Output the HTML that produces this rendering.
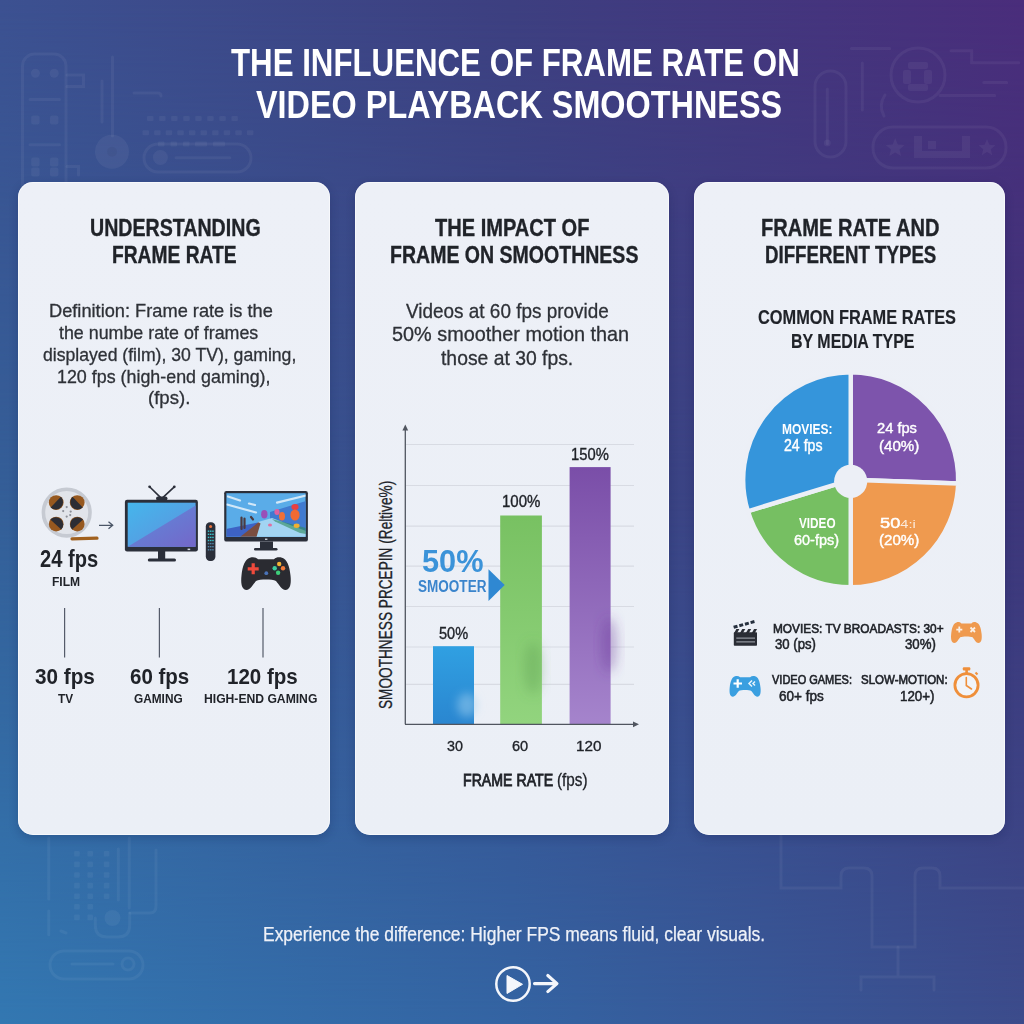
<!DOCTYPE html>
<html><head><meta charset="utf-8"><style>
html,body{margin:0;padding:0;}
body{width:1024px;height:1024px;position:relative;overflow:hidden;font-family:"Liberation Sans", sans-serif;
 background:#3a4f92;}
.t{position:absolute;line-height:1;white-space:nowrap;transform-origin:0 0;}
.bl{display:inline-block;width:0;height:0;vertical-align:baseline;}
</style></head><body>
<div style="position:absolute;left:0;top:0;width:1024px;height:1024px;background:linear-gradient(to right,#3378b2 0%,#3464a3 50%,#3c4c8c 100%)"></div><div style="position:absolute;left:0;top:0;width:1024px;height:1024px;background:linear-gradient(to right,#345f98 0%,#394b8a 50%,#3d367a 100%);-webkit-mask-image:linear-gradient(to bottom,#000 0,#000 512px,transparent 1024px);mask-image:linear-gradient(to bottom,#000 0,#000 512px,transparent 1024px)"></div><div style="position:absolute;left:0;top:0;width:1024px;height:1024px;background:linear-gradient(to right,#3c5191 0%,#3d3f80 50%,#4a2d7b 100%);-webkit-mask-image:linear-gradient(to bottom,#000 0,transparent 512px);mask-image:linear-gradient(to bottom,#000 0,transparent 512px)"></div><svg width="1024" height="1024" style="position:absolute;left:0;top:0" fill="none" stroke="rgba(255,255,255,0.05)" stroke-width="3" stroke-linecap="round"><rect x="22.5" y="54" width="43.5" height="150" rx="12"/><circle cx="35.4" cy="73.3" r="4.5" fill="rgba(255,255,255,0.05)" stroke="none"/><circle cx="54.2" cy="73.3" r="4.5" fill="rgba(255,255,255,0.05)" stroke="none"/><rect x="31.2" y="115.5" width="8.4" height="9" rx="2" fill="rgba(255,255,255,0.05)" stroke="none"/><rect x="50.0" y="115.5" width="8.4" height="9" rx="2" fill="rgba(255,255,255,0.05)" stroke="none"/><rect x="31.2" y="157.5" width="8.4" height="9" rx="2" fill="rgba(255,255,255,0.05)" stroke="none"/><rect x="50.0" y="157.5" width="8.4" height="9" rx="2" fill="rgba(255,255,255,0.05)" stroke="none"/><rect x="31.2" y="167.5" width="8.4" height="9" rx="2" fill="rgba(255,255,255,0.05)" stroke="none"/><rect x="50.0" y="167.5" width="8.4" height="9" rx="2" fill="rgba(255,255,255,0.05)" stroke="none"/><path d="M30 99.5H59.5M30 144.8H59.5"/><path d="M67 75H83.5V86.5H67M67 166.5H78.5V175"/><path d="M112.5 57V136M102 81V122M134 93H158Q161 93 161 96"/><circle cx="112" cy="151.8" r="17" fill="rgba(255,255,255,0.05)" stroke="none"/><circle cx="112" cy="151.8" r="5" fill="rgba(0,0,0,0.04)" stroke="none"/><rect x="144" y="144" width="107" height="28" rx="14"/><circle cx="160.4" cy="157.5" r="7.5" fill="rgba(255,255,255,0.05)" stroke="none"/><path d="M176 157.8H229.8"/><rect x="147.0" y="116" width="6.5" height="5" rx="1" fill="rgba(255,255,255,0.05)" stroke="none"/><rect x="159.1" y="116" width="6.5" height="5" rx="1" fill="rgba(255,255,255,0.05)" stroke="none"/><rect x="171.1" y="116" width="6.5" height="5" rx="1" fill="rgba(255,255,255,0.05)" stroke="none"/><rect x="183.2" y="116" width="6.5" height="5" rx="1" fill="rgba(255,255,255,0.05)" stroke="none"/><rect x="195.2" y="116" width="6.5" height="5" rx="1" fill="rgba(255,255,255,0.05)" stroke="none"/><rect x="207.2" y="116" width="6.5" height="5" rx="1" fill="rgba(255,255,255,0.05)" stroke="none"/><rect x="219.3" y="116" width="6.5" height="5" rx="1" fill="rgba(255,255,255,0.05)" stroke="none"/><rect x="231.4" y="116" width="6.5" height="5" rx="1" fill="rgba(255,255,255,0.05)" stroke="none"/><rect x="142.5" y="130.3" width="6.5" height="5" rx="1" fill="rgba(255,255,255,0.05)" stroke="none"/><rect x="154.1" y="130.3" width="6.5" height="5" rx="1" fill="rgba(255,255,255,0.05)" stroke="none"/><rect x="165.7" y="130.3" width="6.5" height="5" rx="1" fill="rgba(255,255,255,0.05)" stroke="none"/><rect x="177.3" y="130.3" width="6.5" height="5" rx="1" fill="rgba(255,255,255,0.05)" stroke="none"/><rect x="188.9" y="130.3" width="6.5" height="5" rx="1" fill="rgba(255,255,255,0.05)" stroke="none"/><rect x="200.5" y="130.3" width="6.5" height="5" rx="1" fill="rgba(255,255,255,0.05)" stroke="none"/><rect x="212.1" y="130.3" width="6.5" height="5" rx="1" fill="rgba(255,255,255,0.05)" stroke="none"/><rect x="223.7" y="130.3" width="6.5" height="5" rx="1" fill="rgba(255,255,255,0.05)" stroke="none"/><rect x="235.3" y="130.3" width="6.5" height="5" rx="1" fill="rgba(255,255,255,0.05)" stroke="none"/><rect x="246.9" y="130.3" width="6.5" height="5" rx="1" fill="rgba(255,255,255,0.05)" stroke="none"/><rect x="158" y="141.5" width="6.5" height="5" rx="1" fill="rgba(255,255,255,0.05)" stroke="none"/><rect x="170.5" y="141.5" width="6.5" height="5" rx="1" fill="rgba(255,255,255,0.05)" stroke="none"/><rect x="183" y="141.5" width="6.5" height="5" rx="1" fill="rgba(255,255,255,0.05)" stroke="none"/><rect x="195" y="141.5" width="12" height="5" rx="1" fill="rgba(255,255,255,0.05)" stroke="none"/><rect x="213" y="141.5" width="12" height="5" rx="1" fill="rgba(255,255,255,0.05)" stroke="none"/><rect x="815" y="71" width="31" height="86" rx="15.5"/><path d="M827.3 89V143.8"/><circle cx="827.3" cy="143" r="3.5" fill="rgba(255,255,255,0.05)" stroke="none"/><path d="M862.3 63V110M851.4 48.6H889.7M951 50.8H971.7V62.8H1018.8M983.8 82.5H1006.7M940 95.6H994.7"/><circle cx="918" cy="75" r="27"/><rect x="873" y="127" width="133" height="41" rx="20"/><path d="M895.2,138.0 L897.8,144.4 L904.7,144.9 L899.5,149.4 L901.1,156.1 L895.2,152.5 L889.3,156.1 L890.9,149.4 L885.7,144.9 L892.6,144.4Z" fill="rgba(255,255,255,0.05)" stroke="none"/><path d="M987.0,139.0 L989.4,144.8 L995.6,145.2 L990.8,149.2 L992.3,155.3 L987.0,152.0 L981.7,155.3 L983.2,149.2 L978.4,145.2 L984.6,144.8Z" fill="rgba(255,255,255,0.05)" stroke="none"/><path d="M914 136H922V151H962V136H970V158H914Z" fill="rgba(255,255,255,0.05)" stroke="none"/><rect x="928" y="141" width="8" height="8" fill="rgba(255,255,255,0.05)" stroke="none"/><rect x="908" y="62" width="20" height="7" rx="2" fill="rgba(255,255,255,0.05)" stroke="none"/><rect x="903" y="70" width="8" height="14" rx="2" fill="rgba(255,255,255,0.05)" stroke="none"/><rect x="924" y="70" width="8" height="14" rx="2" fill="rgba(255,255,255,0.05)" stroke="none"/><rect x="908" y="84" width="20" height="7" rx="2" fill="rgba(255,255,255,0.05)" stroke="none"/><path d="M885 95Q878 105 884 116"/><path d="M48.8 838V899M48.8 911V934.7M118.3 849V900M129.2 838V908M130 913H150Q156 913 156 906V850M61 931L66 933"/><rect x="74.10000000000001" y="851.0" width="5.6" height="5.6" rx="1" fill="rgba(255,255,255,0.05)" stroke="none"/><rect x="87.4" y="851.0" width="5.6" height="5.6" rx="1" fill="rgba(255,255,255,0.05)" stroke="none"/><rect x="103.8" y="851.0" width="5.6" height="5.6" rx="1" fill="rgba(255,255,255,0.05)" stroke="none"/><rect x="74.10000000000001" y="861.6" width="5.6" height="5.6" rx="1" fill="rgba(255,255,255,0.05)" stroke="none"/><rect x="87.4" y="861.6" width="5.6" height="5.6" rx="1" fill="rgba(255,255,255,0.05)" stroke="none"/><rect x="103.8" y="861.6" width="5.6" height="5.6" rx="1" fill="rgba(255,255,255,0.05)" stroke="none"/><rect x="74.10000000000001" y="872.2" width="5.6" height="5.6" rx="1" fill="rgba(255,255,255,0.05)" stroke="none"/><rect x="87.4" y="872.2" width="5.6" height="5.6" rx="1" fill="rgba(255,255,255,0.05)" stroke="none"/><rect x="103.8" y="872.2" width="5.6" height="5.6" rx="1" fill="rgba(255,255,255,0.05)" stroke="none"/><rect x="74.10000000000001" y="882.8" width="5.6" height="5.6" rx="1" fill="rgba(255,255,255,0.05)" stroke="none"/><rect x="87.4" y="882.8" width="5.6" height="5.6" rx="1" fill="rgba(255,255,255,0.05)" stroke="none"/><rect x="103.8" y="882.8" width="5.6" height="5.6" rx="1" fill="rgba(255,255,255,0.05)" stroke="none"/><rect x="74.10000000000001" y="893.4" width="5.6" height="5.6" rx="1" fill="rgba(255,255,255,0.05)" stroke="none"/><rect x="87.4" y="893.4" width="5.6" height="5.6" rx="1" fill="rgba(255,255,255,0.05)" stroke="none"/><rect x="103.8" y="893.4" width="5.6" height="5.6" rx="1" fill="rgba(255,255,255,0.05)" stroke="none"/><rect x="74.10000000000001" y="904.0" width="5.6" height="5.6" rx="1" fill="rgba(255,255,255,0.05)" stroke="none"/><rect x="87.4" y="904.0" width="5.6" height="5.6" rx="1" fill="rgba(255,255,255,0.05)" stroke="none"/><rect x="74.10000000000001" y="914.6" width="5.6" height="5.6" rx="1" fill="rgba(255,255,255,0.05)" stroke="none"/><rect x="87.4" y="914.6" width="5.6" height="5.6" rx="1" fill="rgba(255,255,255,0.05)" stroke="none"/><path d="M95.3 918V925Q95.3 937 107 937H118Q129.7 937 129.7 925V913"/><circle cx="112.5" cy="918" r="8" fill="rgba(255,255,255,0.05)" stroke="none"/><rect x="50" y="951" width="93" height="28" rx="14"/><path d="M72 964H113"/><circle cx="128" cy="964" r="6"/><path d="M781 836V888H841V876Q841 868 849 868H864Q872 868 872 876V947H915V876Q915 868 923 868H932Q940 868 940 876V888H1024"/><path d="M898 947V977M861 990V977H934V990"/></svg>
<div style="position:absolute;left:18.2px;top:182.3px;width:311.6px;height:653.0px;border-radius:15px;background:linear-gradient(to bottom,#edf0f7,#ebeff6);box-shadow:inset 0 0 0 1px rgba(255,255,255,0.55),0 3px 10px rgba(15,25,70,0.22)"></div><div style="position:absolute;left:354.8px;top:182.3px;width:314.2px;height:653.0px;border-radius:15px;background:linear-gradient(to bottom,#edf0f7,#ebeff6);box-shadow:inset 0 0 0 1px rgba(255,255,255,0.55),0 3px 10px rgba(15,25,70,0.22)"></div><div style="position:absolute;left:694px;top:182.3px;width:310.9px;height:653.0px;border-radius:15px;background:linear-gradient(to bottom,#edf0f7,#ebeff6);box-shadow:inset 0 0 0 1px rgba(255,255,255,0.55),0 3px 10px rgba(15,25,70,0.22)"></div>
<svg width="1024" height="1024" style="position:absolute;left:0;top:0">
<defs>
<linearGradient id="tvscr" x1="0" y1="0" x2="1" y2="1"><stop offset="0" stop-color="#45b6ec"/><stop offset="1" stop-color="#5f8fdc"/></linearGradient>
<linearGradient id="tvscr2" x1="0" y1="0" x2="1" y2="1"><stop offset="0" stop-color="#5b8ddc"/><stop offset="1" stop-color="#7467c9"/></linearGradient>
<linearGradient id="sky" x1="0" y1="0" x2="0" y2="1"><stop offset="0" stop-color="#4f9be6"/><stop offset="1" stop-color="#6fb4ea"/></linearGradient>
<linearGradient id="barB" x1="0" y1="0" x2="0" y2="1"><stop offset="0" stop-color="#30a0e2"/><stop offset="1" stop-color="#2a86d0"/></linearGradient>
<linearGradient id="barG" x1="0" y1="0" x2="0" y2="1"><stop offset="0" stop-color="#78c162"/><stop offset="1" stop-color="#92d47e"/></linearGradient>
<linearGradient id="barP" x1="0" y1="0" x2="0" y2="1"><stop offset="0" stop-color="#7a4ea8"/><stop offset="1" stop-color="#a584cc"/></linearGradient>
<filter id="soft" x="-10%" y="-10%" width="120%" height="120%"><feGaussianBlur stdDeviation="0.6"/></filter>
<filter id="blur3" x="-50%" y="-50%" width="200%" height="200%"><feGaussianBlur stdDeviation="4"/></filter>
<filter id="blur6" x="-50%" y="-50%" width="200%" height="200%"><feGaussianBlur stdDeviation="6"/></filter>
</defs>
<circle cx="66.7" cy="512.6" r="23.3" fill="#e1e4ea" stroke="#c6cad2" stroke-width="3.6"/>
<circle cx="56.20" cy="502.60" r="7.4" fill="#96581f"/>
<path d="M60.87,496.83 A7.4,7.4 0 0 1 50.66,507.54 Z" fill="#2c2d34"/>
<circle cx="77.20" cy="502.60" r="7.4" fill="#96581f"/>
<path d="M82.74,507.54 A7.4,7.4 0 0 1 72.53,496.83 Z" fill="#2c2d34"/>
<circle cx="56.20" cy="524.10" r="7.4" fill="#96581f"/>
<path d="M50.33,519.55 A7.4,7.4 0 0 1 61.26,529.53 Z" fill="#2c2d34"/>
<circle cx="77.20" cy="524.10" r="7.4" fill="#96581f"/>
<path d="M72.14,529.53 A7.4,7.4 0 0 1 83.07,519.55 Z" fill="#2c2d34"/>
<circle cx="66.7" cy="507.1" r="1.1" fill="#8c9099"/>
<circle cx="63.2" cy="511.1" r="1.1" fill="#8c9099"/>
<circle cx="70.7" cy="511.6" r="1.1" fill="#8c9099"/>
<circle cx="66.7" cy="516.6" r="1.1" fill="#8c9099"/>
<circle cx="70.2" cy="515.1" r="1.1" fill="#8c9099"/>
<path d="M72 538.8 L97 538.2" stroke="#a1611f" stroke-width="3.2" stroke-linecap="round"/>
<path d="M99 525.3H112.5M108.5 521.8L112.7 525.3L108.5 528.8" stroke="#4a5566" stroke-width="1.3" fill="none"/>
<path d="M161.7 498.6L149.6 486.8M161.7 498.6L174.3 486.8" stroke="#2b2f3a" stroke-width="1.6"/>
<circle cx="149.6" cy="486.8" r="1.4" fill="#2b2f3a"/><circle cx="174.3" cy="486.8" r="1.4" fill="#2b2f3a"/>
<rect x="156" y="496.5" width="11.5" height="4" rx="2" fill="#2b2f3a"/>
<rect x="124.9" y="499.7" width="73" height="51.8" rx="2.2" fill="#2b2f3a"/>
<rect x="127.7" y="502.7" width="67.9" height="44.1" fill="url(#tvscr)"/>
<path d="M127.7 546.8L195.6 505.5V546.8Z" fill="url(#tvscr2)"/>
<rect x="187.6" y="548.6" width="2.6" height="1.5" fill="#d9dde6"/>
<rect x="158" y="551" width="7.2" height="8.5" fill="#2b2f3a"/>
<rect x="147.8" y="558.6" width="28.2" height="3" rx="1.5" fill="#2b2f3a"/>
<rect x="205.8" y="522.3" width="9.6" height="38.7" rx="4.2" fill="#2b2f3a"/>
<circle cx="210.6" cy="526.6" r="1.5" fill="#e9713c"/>
<rect x="207.8" y="530.5" width="1.5" height="1.4" fill="#39c3cc"/>
<rect x="210.0" y="530.5" width="1.5" height="1.4" fill="#39c3cc"/>
<rect x="212.2" y="530.5" width="1.5" height="1.4" fill="#39c3cc"/>
<rect x="207.8" y="533.6" width="1.5" height="1.4" fill="#39c3cc"/>
<rect x="210.0" y="533.6" width="1.5" height="1.4" fill="#39c3cc"/>
<rect x="212.2" y="533.6" width="1.5" height="1.4" fill="#39c3cc"/>
<rect x="207.8" y="536.7" width="1.5" height="1.4" fill="#39c3cc"/>
<rect x="210.0" y="536.7" width="1.5" height="1.4" fill="#39c3cc"/>
<rect x="212.2" y="536.7" width="1.5" height="1.4" fill="#39c3cc"/>
<rect x="207.8" y="539.8" width="1.5" height="1.4" fill="#39c3cc"/>
<rect x="210.0" y="539.8" width="1.5" height="1.4" fill="#39c3cc"/>
<rect x="212.2" y="539.8" width="1.5" height="1.4" fill="#39c3cc"/>
<rect x="207.8" y="542.9" width="1.5" height="1.4" fill="#4f86a8"/>
<rect x="210.0" y="542.9" width="1.5" height="1.4" fill="#4f86a8"/>
<rect x="212.2" y="542.9" width="1.5" height="1.4" fill="#4f86a8"/>
<rect x="207.8" y="546.0" width="1.5" height="1.4" fill="#4f86a8"/>
<rect x="210.0" y="546.0" width="1.5" height="1.4" fill="#4f86a8"/>
<rect x="212.2" y="546.0" width="1.5" height="1.4" fill="#4f86a8"/>
<rect x="207.8" y="549.1" width="1.5" height="1.4" fill="#4f86a8"/>
<rect x="210.0" y="549.1" width="1.5" height="1.4" fill="#4f86a8"/>
<rect x="212.2" y="549.1" width="1.5" height="1.4" fill="#4f86a8"/>
<rect x="224.2" y="491" width="83.7" height="50.6" rx="2.2" fill="#2b2f3a"/>
<clipPath id="scr"><rect x="226.6" y="493.4" width="79" height="43.4"/></clipPath>
<rect x="226.4" y="493.2" width="79.2" height="43.8" fill="#5aace8"/>
<g clip-path="url(#scr)"><g filter="url(#soft)">
<path d="M270 512L306 501V537H270Z" fill="#3f7ad0"/>
<path d="M226 529L258 522.5L258 537H226Z" fill="#3d62c4"/>
<path d="M258 522L272 518L306 531V537H256Z" fill="#a2d4f2"/>
<path d="M272 519L306 528V534L300 533L275 521.5Z" fill="#2f8a5a" opacity="0.6"/>
<path d="M240 537L258.5 522.3L260.5 523.5L256.5 537Z" fill="#7a4e40"/>
<path d="M227 504.5L256 512.5M228 496.5L240 500.5M277 502.6L306 495.5M249 503.5L255 505" stroke="#e8f3fc" stroke-width="2.2" stroke-linecap="round" opacity="0.85"/>
<path d="M241.5 517.5V529M244.5 518.5V528M251 517l2 2.5" stroke="#4b3a40" stroke-width="2.2" stroke-linecap="round"/>
<ellipse cx="264.3" cy="514.3" rx="3.2" ry="4.2" fill="#9a50b8"/>
<ellipse cx="277" cy="512" rx="2.6" ry="3" fill="#e060a0"/>
<ellipse cx="282" cy="516.3" rx="3" ry="4.3" fill="#f07038"/>
<ellipse cx="295" cy="507" rx="3.6" ry="3" fill="#e84040"/>
<ellipse cx="295" cy="515" rx="4.6" ry="5.5" fill="#f06a30"/>
<ellipse cx="296.6" cy="525.7" rx="3" ry="2.2" fill="#f0b030"/>
<ellipse cx="270" cy="525" rx="2" ry="1.6" fill="#e070a0"/>
</g></g>
<rect x="265" y="538.6" width="2.4" height="1.3" fill="#d8dce4"/>
<rect x="260" y="541.5" width="13" height="7.3" fill="#2b2f3a"/>
<rect x="254" y="548" width="23.5" height="2.6" rx="1.3" fill="#2b2f3a"/>
<g fill="#2a2b31"><path transform="translate(241,556.7) scale(1.0000,0.9912)" d="M9,1 C12,0 15,0.5 17,2.5 L33,2.5 C35,0.5 38,0 41,1 C46,2.5 48.5,9 49.5,19 C50.5,28 49,33.5 44.5,33.5 C40.5,33.5 38,28 35,24.5 C31,22.5 19,22.5 15,24.5 C12,28 9.5,33.5 5.5,33.5 C1,33.5 -0.5,28 0.5,19 C1.5,9 4,2.5 9,1 Z"/></g>
<path d="M253.2 563.3V574.3M247.7 568.8H258.7" stroke="#ee4a3c" stroke-width="3.2"/>
<circle cx="279.2" cy="564" r="2.2" fill="#f2b234"/><circle cx="274.7" cy="568.3" r="2.2" fill="#3ecfa0"/><circle cx="283" cy="568.3" r="2.2" fill="#f27a3a"/><circle cx="278.1" cy="572.8" r="2.2" fill="#3ecf7a"/><circle cx="266.3" cy="573.2" r="1.9" fill="#4a73b8"/>
<path d="M64.6 608V657.5" stroke="#555b6a" stroke-width="1.2"/>
<path d="M159.4 608V657.5" stroke="#555b6a" stroke-width="1.2"/>
<path d="M263.0 608V657.5" stroke="#555b6a" stroke-width="1.2"/>
<path d="M406 444.5H634" stroke="#d8dbe3" stroke-width="1.1"/>
<path d="M406 485.5H634" stroke="#d8dbe3" stroke-width="1.1"/>
<path d="M406 526.1H634" stroke="#d8dbe3" stroke-width="1.1"/>
<path d="M406 566.1H634" stroke="#d8dbe3" stroke-width="1.1"/>
<path d="M406 606.5H634" stroke="#d8dbe3" stroke-width="1.1"/>
<path d="M406 647.0H634" stroke="#d8dbe3" stroke-width="1.1"/>
<path d="M406 684.4H634" stroke="#d8dbe3" stroke-width="1.1"/>
<rect x="433" y="646.2" width="41" height="78.1" fill="url(#barB)"/>
<rect x="500.2" y="515.5" width="41.7" height="208.8" fill="url(#barG)"/>
<rect x="569.6" y="467.1" width="41" height="257.2" fill="url(#barP)"/>
<g filter="url(#blur3)"><ellipse cx="467" cy="705" rx="10" ry="12" fill="#9fd0f0" opacity="0.5"/></g>
<g filter="url(#blur6)"><ellipse cx="533" cy="668" rx="9" ry="26" fill="#5a9a50" opacity="0.35"/></g>
<g filter="url(#blur6)"><ellipse cx="609" cy="645" rx="8" ry="28" fill="#6a3a98" opacity="0.38"/></g>
<path d="M405.3 724.3V428" stroke="#50555f" stroke-width="1.3"/><path d="M402.4 430.5L405.3 424.5L408.2 430.5Z" fill="#50555f"/>
<path d="M405 724.3H635" stroke="#50555f" stroke-width="1.3"/><path d="M633 721.4L639 724.3L633 727.2Z" fill="#50555f"/>
<path d="M488.5 569.2L504.7 584.9L488.5 601Z" fill="#2f88d2"/>
<path d="M850.7,479.8 L850.70,372.30 A107.5,107.5 0 0 1 958.13,483.55 Z" fill="#7d54ac" stroke="#eceff6" stroke-width="4.4" stroke-linejoin="round"/>
<path d="M850.7,479.8 L958.13,483.55 A107.5,107.5 0 0 1 850.70,587.30 Z" fill="#ef9a4f" stroke="#eceff6" stroke-width="4.4" stroke-linejoin="round"/>
<path d="M850.7,479.8 L850.70,587.30 A107.5,107.5 0 0 1 747.90,511.23 Z" fill="#76bf62" stroke="#eceff6" stroke-width="4.4" stroke-linejoin="round"/>
<path d="M850.7,479.8 L747.90,511.23 A107.5,107.5 0 0 1 850.70,372.30 Z" fill="#3595db" stroke="#eceff6" stroke-width="4.4" stroke-linejoin="round"/>
<circle cx="850.7" cy="481.3" r="16.6" fill="#eceff6"/>
<rect x="733.8" y="632.3" width="23.2" height="13.5" rx="0.8" fill="#2a2d35"/>
<path d="M736.3 638.1H755M736.3 641.8H755" stroke="#90949c" stroke-width="1.3"/>
<path d="M733.80 633.5L736.40 629L739.40 629L736.80 633.5Z" fill="#2a2d35"/>
<path d="M739.70 633.5L742.30 629L745.30 629L742.70 633.5Z" fill="#2a2d35"/>
<path d="M745.60 633.5L748.20 629L751.20 629L748.60 633.5Z" fill="#2a2d35"/>
<path d="M751.50 633.5L754.10 629L757.10 629L754.50 633.5Z" fill="#2a2d35"/>
<path d="M733.65 627.28L737.49 626.22" stroke="#26303e" stroke-width="3" stroke-linecap="butt"/>
<path d="M739.30 625.73L743.14 624.67" stroke="#26303e" stroke-width="3" stroke-linecap="butt"/>
<path d="M744.95 624.18L748.79 623.12" stroke="#26303e" stroke-width="3" stroke-linecap="butt"/>
<path d="M750.60 622.63L754.44 621.57" stroke="#26303e" stroke-width="3" stroke-linecap="butt"/>
<g fill="#ef9a4f"><path transform="translate(950.9,621.8) scale(0.6200,0.6353)" d="M9,1 C12,0 15,0.5 17,2.5 L33,2.5 C35,0.5 38,0 41,1 C46,2.5 48.5,9 49.5,19 C50.5,28 49,33.5 44.5,33.5 C40.5,33.5 38,28 35,24.5 C31,22.5 19,22.5 15,24.5 C12,28 9.5,33.5 5.5,33.5 C1,33.5 -0.5,28 0.5,19 C1.5,9 4,2.5 9,1 Z"/></g>
<path d="M956.3 629.6H962.3M959.3 626.6V632.6M970.5 627.5l4.5 4.5M975 627.5l-4.5 4.5" stroke="#fbefe4" stroke-width="1.8"/>
<g fill="#3a9fe0"><path transform="translate(729.4,675.6) scale(0.6280,0.6294)" d="M9,1 C12,0 15,0.5 17,2.5 L33,2.5 C35,0.5 38,0 41,1 C46,2.5 48.5,9 49.5,19 C50.5,28 49,33.5 44.5,33.5 C40.5,33.5 38,28 35,24.5 C31,22.5 19,22.5 15,24.5 C12,28 9.5,33.5 5.5,33.5 C1,33.5 -0.5,28 0.5,19 C1.5,9 4,2.5 9,1 Z"/></g>
<path d="M733.5 683.5H742M737.7 679.3V687.7" stroke="#ffffff" stroke-width="2.2"/>
<path d="M752 680.5l-3 3 3 3M755 681.5l-2 2 2 2" stroke="#e8f3fb" stroke-width="1.5" fill="none"/>
<circle cx="966.5" cy="685.2" r="11.6" fill="#f1f4f9" stroke="#ef8f3a" stroke-width="2.8"/>
<rect x="962.8" y="667.2" width="7.5" height="3.2" rx="1" fill="#ef8f3a"/><rect x="965.3" y="669.5" width="2.6" height="3.5" fill="#ef8f3a"/>
<path d="M975.5 672.5L977.5 674.5" stroke="#ef8f3a" stroke-width="2"/>
<path d="M966.3 677.5V685.5L971.5 689" stroke="#ef8f3a" stroke-width="1.6" fill="none" stroke-linecap="round"/>
<circle cx="513" cy="984" r="16.7" fill="none" stroke="#f4f6fb" stroke-width="2.5"/>
<path d="M507 975.5L522.5 984.3L507 993.5Z" fill="#f4f6fb" stroke="#f4f6fb" stroke-width="1" stroke-linejoin="round"/>
<path d="M534.5 983.6H556.5M547.8 975.5L557 983.6L547.8 991.6" stroke="#f4f6fb" stroke-width="3.1" fill="none" stroke-linecap="round" stroke-linejoin="round"/>
</svg>
<div class="t" id="t1" style="left:231.32px;top:43.80px;font-size:38.23px;font-weight:700;color:#ffffff;transform:scaleX(0.8175);">THE INFLUENCE OF FRAME RATE ON<span class="bl"></span></div>
<div class="t" id="t2" style="left:256.26px;top:85.60px;font-size:38.52px;font-weight:700;color:#ffffff;transform:scaleX(0.8410);">VIDEO PLAYBACK SMOOTHNESS<span class="bl"></span></div>
<div class="t" id="h1a" style="left:90.47px;top:215.61px;font-size:24.13px;font-weight:700;color:#202329;transform:scaleX(0.8126);-webkit-text-stroke:0.35px #202329;">UNDERSTANDING<span class="bl"></span></div>
<div class="t" id="h1b" style="left:111.84px;top:242.71px;font-size:23.84px;font-weight:700;color:#202329;transform:scaleX(0.8067);-webkit-text-stroke:0.35px #202329;">FRAME RATE<span class="bl"></span></div>
<div class="t" id="h2a" style="left:435.05px;top:215.61px;font-size:24.13px;font-weight:700;color:#202329;transform:scaleX(0.8312);-webkit-text-stroke:0.35px #202329;">THE IMPACT OF<span class="bl"></span></div>
<div class="t" id="h2b" style="left:390.36px;top:242.71px;font-size:23.84px;font-weight:700;color:#202329;transform:scaleX(0.8194);-webkit-text-stroke:0.35px #202329;">FRAME ON SMOOTHNESS<span class="bl"></span></div>
<div class="t" id="h3a" style="left:760.75px;top:215.61px;font-size:24.13px;font-weight:700;color:#202329;transform:scaleX(0.8321);-webkit-text-stroke:0.35px #202329;">FRAME RATE AND<span class="bl"></span></div>
<div class="t" id="h3b" style="left:765.11px;top:242.71px;font-size:23.84px;font-weight:700;color:#202329;transform:scaleX(0.7843);-webkit-text-stroke:0.35px #202329;">DIFFERENT TYPES<span class="bl"></span></div>
<div class="t" id="b1" style="left:48.71px;top:302.22px;font-size:18.40px;font-weight:400;color:#2e3137;transform:scaleX(0.9911);-webkit-text-stroke:0.3px #2e3137;">Definition: Frame rate is the<span class="bl"></span></div>
<div class="t" id="b2" style="left:59.21px;top:324.41px;font-size:18.40px;font-weight:400;color:#2e3137;transform:scaleX(0.9697);-webkit-text-stroke:0.3px #2e3137;">the numbe rate of frames<span class="bl"></span></div>
<div class="t" id="b3" style="left:42.73px;top:346.00px;font-size:18.40px;font-weight:400;color:#2e3137;transform:scaleX(0.9581);-webkit-text-stroke:0.3px #2e3137;">displayed (film), 30 TV), gaming,<span class="bl"></span></div>
<div class="t" id="b4" style="left:57.14px;top:367.61px;font-size:18.40px;font-weight:400;color:#2e3137;transform:scaleX(0.9715);-webkit-text-stroke:0.3px #2e3137;">120 fps (high-end gaming),<span class="bl"></span></div>
<div class="t" id="b5" style="left:147.78px;top:389.31px;font-size:18.40px;font-weight:400;color:#2e3137;transform:scaleX(1.0106);-webkit-text-stroke:0.3px #2e3137;">(fps).<span class="bl"></span></div>
<div class="t" id="l24" style="left:40.24px;top:547.61px;font-size:23.35px;font-weight:700;color:#202329;transform:scaleX(0.8609);">24 fps<span class="bl"></span></div>
<div class="t" id="lfilm" style="left:52.23px;top:574.71px;font-size:13.37px;font-weight:700;color:#202329;transform:scaleX(0.9026);">FILM<span class="bl"></span></div>
<div class="t" id="l30" style="left:35.36px;top:666.21px;font-size:21.92px;font-weight:700;color:#202329;transform:scaleX(0.9449);">30 fps<span class="bl"></span></div>
<div class="t" id="ltv" style="left:57.62px;top:692.21px;font-size:13.37px;font-weight:700;color:#202329;transform:scaleX(0.8824);">TV<span class="bl"></span></div>
<div class="t" id="l60" style="left:130.15px;top:666.31px;font-size:21.92px;font-weight:700;color:#202329;transform:scaleX(0.9363);">60 fps<span class="bl"></span></div>
<div class="t" id="lgam" style="left:134.00px;top:691.60px;font-size:13.37px;font-weight:700;color:#202329;transform:scaleX(0.8857);">GAMING<span class="bl"></span></div>
<div class="t" id="l120" style="left:227.21px;top:666.21px;font-size:21.92px;font-weight:700;color:#202329;transform:scaleX(0.9373);">120 fps<span class="bl"></span></div>
<div class="t" id="lhigh" style="left:204.47px;top:691.51px;font-size:13.37px;font-weight:700;color:#202329;transform:scaleX(0.9090);">HIGH-END GAMING<span class="bl"></span></div>
<div class="t" id="v1" style="left:406.22px;top:300.60px;font-size:20.30px;font-weight:400;color:#2e3137;transform:scaleX(0.9334);-webkit-text-stroke:0.3px #2e3137;">Videos at 60 fps provide<span class="bl"></span></div>
<div class="t" id="v2" style="left:392.33px;top:324.31px;font-size:20.30px;font-weight:400;color:#2e3137;transform:scaleX(0.9784);-webkit-text-stroke:0.3px #2e3137;">50% smoother motion than<span class="bl"></span></div>
<div class="t" id="v3" style="left:441.31px;top:347.81px;font-size:20.30px;font-weight:400;color:#2e3137;transform:scaleX(0.9534);-webkit-text-stroke:0.3px #2e3137;">those at 30 fps.<span class="bl"></span></div>
<div class="t" id="p150" style="left:571.07px;top:446.50px;font-size:15.80px;font-weight:400;color:#202329;transform:scaleX(0.9344);-webkit-text-stroke:0.35px #202329;">150%<span class="bl"></span></div>
<div class="t" id="p100" style="left:502.11px;top:494.31px;font-size:15.80px;font-weight:400;color:#202329;transform:scaleX(0.9514);-webkit-text-stroke:0.35px #202329;">100%<span class="bl"></span></div>
<div class="t" id="p50" style="left:438.70px;top:625.50px;font-size:15.80px;font-weight:400;color:#202329;transform:scaleX(0.9207);-webkit-text-stroke:0.35px #202329;">50%<span class="bl"></span></div>
<div class="t" id="big50" style="left:421.91px;top:547.31px;font-size:30.95px;font-weight:700;color:#3b93d9;transform:scaleX(0.9936);">50%<span class="bl"></span></div>
<div class="t" id="smooter" style="left:417.53px;top:578.20px;font-size:16.13px;font-weight:700;color:#3a84cc;transform:scaleX(0.8403);">SMOOTER<span class="bl"></span></div>
<div class="t" id="x30" style="left:446.87px;top:738.32px;font-size:15.47px;font-weight:400;color:#202329;transform:scaleX(0.9245);-webkit-text-stroke:0.35px #202329;">30<span class="bl"></span></div>
<div class="t" id="x60" style="left:511.61px;top:738.32px;font-size:15.47px;font-weight:400;color:#202329;transform:scaleX(0.9412);-webkit-text-stroke:0.35px #202329;">60<span class="bl"></span></div>
<div class="t" id="x120" style="left:576.41px;top:738.32px;font-size:15.47px;font-weight:400;color:#202329;transform:scaleX(0.9850);-webkit-text-stroke:0.35px #202329;">120<span class="bl"></span></div>
<div class="t" id="xt" style="left:463.45px;top:772.41px;font-size:16.42px;font-weight:400;color:#202329;transform:scaleX(0.8619);"><span style="-webkit-text-stroke:0.8px #202329">FRAME RATE</span> <span style="font-size:1.08em;-webkit-text-stroke:0.3px #202329">(fps)</span><span class="bl"></span></div>
<div class="t" id="c1" style="left:757.87px;top:307.21px;font-size:20.35px;font-weight:700;color:#202329;transform:scaleX(0.8050);-webkit-text-stroke:0.15px #202329;">COMMON FRAME RATES<span class="bl"></span></div>
<div class="t" id="c2" style="left:791.13px;top:330.81px;font-size:20.35px;font-weight:700;color:#202329;transform:scaleX(0.7860);-webkit-text-stroke:0.15px #202329;">BY MEDIA TYPE<span class="bl"></span></div>
<div class="t" id="pm1" style="left:781.58px;top:422.20px;font-size:14.24px;font-weight:700;color:#ffffff;transform:scaleX(0.8418);">MOVIES:<span class="bl"></span></div>
<div class="t" id="pm2" style="left:784.34px;top:438.41px;font-size:15.60px;font-weight:400;color:#ffffff;transform:scaleX(0.9061);-webkit-text-stroke:0.4px #fff;">24 fps<span class="bl"></span></div>
<div class="t" id="pp1" style="left:877.24px;top:421.41px;font-size:14.80px;font-weight:400;color:#ffffff;transform:scaleX(0.9909);-webkit-text-stroke:0.4px #fff;">24 fps<span class="bl"></span></div>
<div class="t" id="pp2" style="left:878.80px;top:438.61px;font-size:14.80px;font-weight:400;color:#ffffff;transform:scaleX(1.0225);-webkit-text-stroke:0.4px #fff;">(40%)<span class="bl"></span></div>
<div class="t" id="pg1" style="left:798.76px;top:516.41px;font-size:14.68px;font-weight:700;color:#ffffff;transform:scaleX(0.8009);">VIDEO<span class="bl"></span></div>
<div class="t" id="pg2" style="left:793.63px;top:533.00px;font-size:14.80px;font-weight:400;color:#ffffff;transform:scaleX(0.9773);-webkit-text-stroke:0.4px #fff;">60-fps)<span class="bl"></span></div>
<div class="t" id="po1" style="left:879.95px;top:516.41px;font-size:14.47px;font-weight:400;color:#ffffff;transform:scaleX(1.2600);-webkit-text-stroke:0.5px #fff;">50<span style="font-size:0.8em;opacity:0.8;-webkit-text-stroke:0">4:i</span><span class="bl"></span></div>
<div class="t" id="po2" style="left:878.98px;top:533.00px;font-size:14.80px;font-weight:400;color:#ffffff;transform:scaleX(1.0225);-webkit-text-stroke:0.4px #fff;">(20%)<span class="bl"></span></div>
<div class="t" id="g1" style="left:772.55px;top:621.81px;font-size:13.37px;font-weight:400;color:#202329;transform:scaleX(0.8865);-webkit-text-stroke:0.65px #202329;">MOVIES: TV BROADASTS: 30+<span class="bl"></span></div>
<div class="t" id="g2" style="left:775.22px;top:637.91px;font-size:13.75px;font-weight:400;color:#202329;transform:scaleX(0.9581);-webkit-text-stroke:0.5px #202329;">30 (ps)<span class="bl"></span></div>
<div class="t" id="g3" style="left:904.89px;top:638.00px;font-size:13.75px;font-weight:400;color:#202329;transform:scaleX(0.9627);-webkit-text-stroke:0.5px #202329;">30%)<span class="bl"></span></div>
<div class="t" id="g4" style="left:772.36px;top:672.81px;font-size:13.08px;font-weight:400;color:#202329;transform:scaleX(0.8402);-webkit-text-stroke:0.65px #202329;">VIDEO GAMES:<span class="bl"></span></div>
<div class="t" id="g5" style="left:861.23px;top:672.81px;font-size:13.08px;font-weight:400;color:#202329;transform:scaleX(0.8787);-webkit-text-stroke:0.65px #202329;">SLOW-MOTION:<span class="bl"></span></div>
<div class="t" id="g6" style="left:779.00px;top:689.61px;font-size:13.75px;font-weight:400;color:#202329;transform:scaleX(0.9828);-webkit-text-stroke:0.5px #202329;">60+ fps<span class="bl"></span></div>
<div class="t" id="g7" style="left:900.11px;top:689.61px;font-size:13.75px;font-weight:400;color:#202329;transform:scaleX(0.9723);-webkit-text-stroke:0.5px #202329;">120+)<span class="bl"></span></div>
<div class="t" id="foot" style="left:262.62px;top:924.81px;font-size:19.91px;font-weight:400;color:#eef1f8;transform:scaleX(0.8766);-webkit-text-stroke:0.25px #eef1f8;">Experience the difference: Higher FPS means fluid, clear visuals.<span class="bl"></span></div>
<div class="t" id="ylab" style="left:376.90px;top:709.00px;font-size:18.90px;font-weight:400;color:#202329;transform-origin:0 0;transform:rotate(-90deg) translateY(0) scaleX(0.7222);-webkit-text-stroke:0.3px #202329;">SMOOTHNESS PRCEPIN (Reltive%)<span class="bl"></span></div>
</body></html>
